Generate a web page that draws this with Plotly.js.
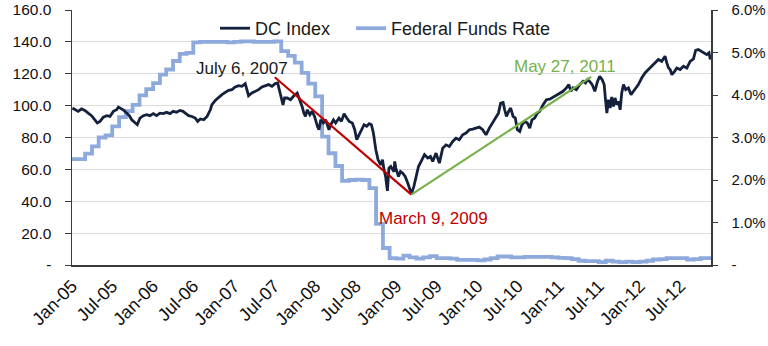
<!DOCTYPE html>
<html>
<head>
<meta charset="utf-8">
<script src="https://cdn.plot.ly/plotly-3.0.1.min.js"></script>
<style>html,body{margin:0;padding:0;background:#fff;}#chart{width:768px;height:346px;}</style>
</head>
<body>
<div id="chart"></div>
<script>
// DC Index
const dcDates = [
'2005-01-03','2005-01-14','2005-01-29','2005-02-13','2005-02-28','2005-03-15','2005-03-30','2005-04-14','2005-04-25','2005-05-07',
'2005-05-22','2005-06-06','2005-06-21','2005-07-06','2005-07-21','2005-07-29','2005-08-13','2005-08-23','2005-09-04','2005-09-16',
'2005-09-27','2005-10-12','2005-10-22','2005-11-03','2005-11-18','2005-12-03','2005-12-18','2006-01-02','2006-01-17','2006-02-01',
'2006-02-16','2006-03-03','2006-03-18','2006-04-02','2006-04-17','2006-05-02','2006-05-16','2006-05-26','2006-06-10','2006-06-25',
'2006-07-10','2006-07-21','2006-08-02','2006-08-17','2006-09-01','2006-09-16','2006-09-23','2006-10-08','2006-10-23','2006-11-07',
'2006-11-22','2006-12-07','2006-12-22','2007-01-06','2007-01-21','2007-02-05','2007-02-20','2007-02-28','2007-03-07','2007-03-22',
'2007-04-06','2007-04-21','2007-05-06','2007-05-21','2007-06-05','2007-06-20','2007-07-05','2007-07-16','2007-07-28','2007-08-09',
'2007-08-16','2007-08-28','2007-09-12','2007-09-27','2007-10-12','2007-10-19','2007-11-03','2007-11-11','2007-11-18','2007-11-26',
'2007-12-08','2007-12-18','2007-12-29','2008-01-11','2008-01-18','2008-01-26','2008-02-07','2008-02-17','2008-02-25','2008-03-03',
'2008-03-11','2008-03-23','2008-04-02','2008-04-17','2008-04-28','2008-05-10','2008-05-22','2008-06-02','2008-06-16','2008-06-27',
'2008-07-06','2008-07-16','2008-07-27','2008-08-08','2008-08-20','2008-08-31','2008-09-10','2008-09-19','2008-09-30','2008-10-10',
'2008-10-22','2008-10-30','2008-11-06','2008-11-13','2008-11-21','2008-11-28','2008-12-06','2008-12-21','2008-12-24','2008-12-29',
'2009-01-10','2009-01-19','2009-01-29','2009-02-09','2009-02-21','2009-03-05','2009-03-09','2009-03-20','2009-03-30','2009-04-10',
'2009-04-22','2009-05-07','2009-05-22','2009-06-03','2009-06-13','2009-06-28','2009-07-13','2009-07-28','2009-08-12','2009-08-27',
'2009-09-11','2009-09-26','2009-10-11','2009-10-26','2009-11-10','2009-11-25','2009-12-10','2009-12-25','2010-01-09','2010-01-24',
'2010-02-08','2010-02-23','2010-03-10','2010-03-25','2010-04-05','2010-04-15','2010-04-26','2010-05-03','2010-05-11','2010-05-21',
'2010-05-30','2010-06-10','2010-06-20','2010-06-29','2010-07-10','2010-07-20','2010-08-02','2010-08-13','2010-08-24','2010-09-03',
'2010-09-15','2010-09-27','2010-10-08','2010-10-23','2010-11-07','2010-11-22','2010-12-07','2010-12-22','2011-01-06','2011-01-21',
'2011-02-05','2011-02-16','2011-02-25','2011-03-07','2011-03-22','2011-04-06','2011-04-21','2011-05-02','2011-05-11','2011-05-21',
'2011-06-01','2011-06-13','2011-06-25','2011-07-05','2011-07-16','2011-07-25','2011-07-31','2011-08-06','2011-08-08','2011-08-13',
'2011-08-21','2011-08-28','2011-09-05','2011-09-12','2011-09-20','2011-09-27','2011-10-05','2011-10-12','2011-10-20','2011-10-30',
'2011-11-11','2011-11-23','2011-12-04','2011-12-14','2011-12-26','2012-01-10','2012-01-25','2012-02-09','2012-02-24','2012-03-10',
'2012-03-25','2012-04-09','2012-04-24','2012-05-02','2012-05-10','2012-05-17','2012-05-25','2012-06-06','2012-06-16','2012-07-01',
'2012-07-16','2012-07-31','2012-08-15','2012-08-30','2012-09-09','2012-09-21','2012-10-06','2012-10-18','2012-10-29','2012-11-08',
'2012-11-14'
];
const dcValues = [
98.5,97.4,96.4,97.9,97.0,95.3,93.7,91.1,89.1,90.1,
92.8,93.7,93.2,96.4,97.4,99.1,97.9,97.0,95.3,93.7,
91.1,89.5,88.0,92.2,93.7,94.3,93.7,95.0,93.7,95.3,
95.0,95.8,95.0,96.4,95.8,97.0,96.4,95.3,93.7,93.2,
92.2,90.1,91.6,91.1,93.2,97.4,100.6,103.3,105.4,106.9,
108.3,109.6,110.0,111.7,112.5,112.1,113.8,109.0,106.2,107.9,
109.0,110.0,111.7,112.5,113.2,112.1,113.8,114.2,107.9,100.5,
104.8,104.8,103.7,106.2,107.9,105.4,99.5,95.3,93.2,97.4,
94.3,96.4,93.2,87.0,84.9,91.1,89.1,91.1,88.0,84.9,
88.0,91.1,89.1,92.2,90.1,94.9,92.2,90.1,89.1,84.9,
78.6,81.7,84.9,88.0,87.0,88.6,88.0,82.8,72.3,66.0,
62.9,66.0,59.7,55.5,46.5,60.8,61.8,58.5,65.0,60.8,
55.5,58.7,57.6,55.5,51.3,47.1,44.6,49.2,55.5,61.8,
65.0,69.2,67.1,68.1,65.0,70.2,63.9,73.3,75.4,74.4,
77.5,79.6,78.6,81.7,82.8,84.9,85.3,85.9,86.5,84.9,
81.7,85.9,89.1,92.2,95.3,101.6,102.0,97.4,93.2,96.4,
98.5,93.2,92.2,84.9,83.8,88.0,90.1,89.1,85.9,91.1,
92.2,95.3,96.4,100.6,103.7,104.1,105.4,106.9,107.9,109.0,
111.1,113.2,109.0,111.1,110.0,113.2,115.2,114.2,116.3,115.2,
113.2,109.0,115.2,118.4,116.3,113.2,103.7,95.3,97.4,103.7,
98.5,105.4,99.5,104.8,100.6,102.7,97.4,107.9,113.2,110.0,
111.1,106.9,109.0,111.1,113.2,117.3,120.5,122.6,124.7,126.8,
128.9,127.8,131.0,126.8,123.6,122.6,119.4,121.5,123.6,122.6,
124.7,123.6,127.8,129.3,134.7,135.2,134.1,133.1,132.0,133.1,
128.9
];

// Federal Funds Rate, monthly (%), Jan 2005 - Dec 2012
const fedStartYear = 2005;
const fedRate = [
2.49,2.49,2.62,2.79,3.00,3.05,3.26,3.48,3.62,3.77,3.99,4.14,
4.28,4.48,4.60,4.80,4.97,4.99,5.24,5.25,5.25,5.25,5.25,5.24,
5.25,5.26,5.26,5.25,5.25,5.25,5.26,5.03,4.92,4.76,4.52,4.27,
3.97,3.02,2.63,2.33,1.98,2.00,2.01,2.00,1.81,0.97,0.40,0.16,
0.15,0.22,0.18,0.15,0.18,0.21,0.16,0.16,0.15,0.12,0.12,0.12,
0.11,0.13,0.16,0.20,0.20,0.18,0.18,0.19,0.19,0.19,0.19,0.18,
0.17,0.16,0.14,0.10,0.09,0.09,0.07,0.10,0.08,0.07,0.08,0.07,
0.08,0.10,0.13,0.14,0.16,0.16,0.16,0.13,0.14,0.16,0.16,0.16
];
const fedDates = fedRate.map((v, i) => {
  const y = fedStartYear + Math.floor(i / 12);
  const m = (i % 12) + 1;
  return y + '-' + String(m).padStart(2, '0') + '-01';
});

// Trend lines
const declineDates = ['2007-07-03', '2009-03-09'];
const declineValues = [117.8, 44.2];
const recoveryDates = ['2009-03-09', '2011-05-27'];
const recoveryValues = [44.2, 118.0];

// Axis labels
const leftTickVals = [0, 20, 40, 60, 80, 100, 120, 140, 160];
const leftTickText = ['-', '20.0', '40.0', '60.0', '80.0', '100.0', '120.0', '140.0', '160.0'];
const rightTickVals = [0, 1, 2, 3, 4, 5, 6];
const rightTickText = ['-', '1.0%', '2.0%', '3.0%', '4.0%', '5.0%', '6.0%'];

const FONT = '"Liberation Sans", Arial, sans-serif';
const legendFont = {family: FONT, size: 18, color: '#1a1a1a'};

const traces = [
  {x: fedDates, y: fedRate, name: 'Federal Funds Rate', type: 'scatter', mode: 'lines',
   line: {color: '#8eaadc', width: 3.8, shape: 'hv'}, yaxis: 'y', legend: 'legend2'},
  {x: dcDates, y: dcValues, name: 'DC Index', type: 'scatter', mode: 'lines',
   line: {color: '#14213d', width: 2.8}, yaxis: 'y2', legend: 'legend'},
  {x: declineDates, y: declineValues, type: 'scatter', mode: 'lines', showlegend: false,
   line: {color: '#c00000', width: 2.2}, yaxis: 'y2', hoverinfo: 'skip'},
  {x: recoveryDates, y: recoveryValues, type: 'scatter', mode: 'lines', showlegend: false,
   line: {color: '#77b14a', width: 2.2}, yaxis: 'y2', hoverinfo: 'skip'}
];

const layout = {
  width: 768, height: 346,
  margin: {l: 72, r: 57, t: 10, b: 81, autoexpand: false},
  paper_bgcolor: '#fff', plot_bgcolor: '#fff',
  font: {family: FONT, size: 15, color: '#1a1a1a'},
  showlegend: true,
  legend: {orientation: 'h', x: 0.2238, xanchor: 'left', y: 1.0, yanchor: 'top',
           font: legendFont, bgcolor: 'rgba(255,255,255,0)'},
  legend2: {orientation: 'h', x: 0.4366, xanchor: 'left', y: 1.0, yanchor: 'top',
           font: legendFont, bgcolor: 'rgba(255,255,255,0)'},
  xaxis: {type: 'date', range: ['2005-01-01', '2012-11-17'],
          tick0: '2005-01-01', dtick: 'M6', tickformat: '%b-%y', tickangle: -45,
          showgrid: false, zeroline: false, showline: true, linecolor: '#3a3a3a', linewidth: 1.5,
          ticks: '', ticklabelstandoff: 2, tickfont: {family: FONT, size: 18, color: '#111'}},
  yaxis: {range: [0, 6], side: 'right', tickvals: rightTickVals, ticktext: rightTickText,
          showgrid: false, zeroline: false, showline: true, linecolor: '#3a3a3a', linewidth: 1.5,
          ticks: 'outside', ticklen: 5, tickcolor: '#3a3a3a', ticklabelstandoff: 11,
          tickfont: {family: FONT, size: 15, color: '#111'}},
  yaxis2: {range: [0, 160], side: 'left', overlaying: 'y', anchor: 'x',
           tickvals: leftTickVals, ticktext: leftTickText,
           showgrid: true, gridcolor: '#dcdcdc', gridwidth: 1.2, zeroline: false,
           showline: true, linecolor: '#3a3a3a', linewidth: 1.5,
           ticks: 'outside', ticklen: 6, tickcolor: '#3a3a3a', ticklabelstandoff: 10,
           tickfont: {family: FONT, size: 15.5, color: '#111'}},
  annotations: [
    {xref: 'x', yref: 'y2', x: '2007-02-05', y: 123, text: 'July 6, 2007', showarrow: false,
     font: {family: FONT, size: 17, color: '#1a1a1a'}},
    {xref: 'x', yref: 'y2', x: '2009-06-15', y: 29, text: 'March 9, 2009', showarrow: false,
     font: {family: FONT, size: 17, color: '#c00000'}},
    {xref: 'x', yref: 'y2', x: '2011-01-30', y: 124.7, text: 'May 27, 2011', showarrow: false,
     font: {family: FONT, size: 17, color: '#77b14a'}}
  ]
};

Plotly.newPlot('chart', traces, layout, {displayModeBar: false, staticPlot: true});
</script>
</body>
</html>
